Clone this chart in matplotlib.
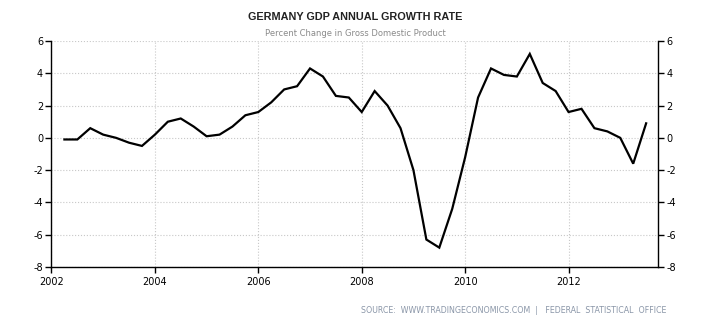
"""
Germany GDP annual growth rate, quarterly
"""
import numpy as np
import matplotlib
matplotlib.use("Agg")
import matplotlib.pyplot as plt

plt.rcParams['axes.unicode_minus'] = False

# quarterly values, Q1 2002 .. Q2 2013
start_year = 2002.25
growth = [-0.1, -0.1, 0.6, 0.2, 0.0, -0.3, -0.5, 0.2,
          1.0, 1.2, 0.7, 0.1, 0.2, 0.7, 1.4, 1.6,
          2.2, 3.0, 3.2, 4.3, 3.8, 2.6, 2.5, 1.6,
          2.9, 2.0, 0.6, -2.0, -6.3, -6.8, -4.4, -1.2,
          2.5, 4.3, 3.9, 3.8, 5.2, 3.4, 2.9, 1.6,
          1.8, 0.6, 0.4, 0.0, -1.6, 0.9]
years = start_year + 0.25 * np.arange(len(growth))
year_ticks = [2002, 2004, 2006, 2008, 2010, 2012]
y_ticks = [-8, -6, -4, -2, 0, 2, 4, 6]

fig = plt.figure(figsize=(7.1, 3.25), dpi=100)
ax = fig.add_axes([0.0725, 0.1785, 0.8543, 0.6953])
ax.plot(years, growth, color='black', linewidth=1.6, solid_joinstyle='miter')

ax.set_xlim(2002, 2013.73)
ax.set_ylim(-8, 6)
ax.set_xticks(year_ticks)
ax.set_yticks(y_ticks)
ax.grid(True, color='#c8c8c8', linestyle=':', linewidth=0.8)
ax.spines['top'].set_visible(False)
for s in ['left', 'right', 'bottom']:
    ax.spines[s].set_linewidth(1.0)
ax.tick_params(axis='both', direction='out', length=4, width=1, labelsize=7, colors='black')
ax.tick_params(axis='y', right=True, labelright=True, pad=2)

fig.text(0.5, 0.948, "GERMANY GDP ANNUAL GROWTH RATE", ha='center', va='center',
         fontsize=7.8, fontweight='bold', color='#222222',
         family=['Liberation Sans', 'DejaVu Sans'])
fig.text(0.5, 0.896, "Percent Change in Gross Domestic Product", ha='center', va='center',
         fontsize=6, color='#8a8a8a')
fig.text(0.938, 0.046, "SOURCE:  WWW.TRADINGECONOMICS.COM  |   FEDERAL  STATISTICAL  OFFICE",
         ha='right', va='center', fontsize=5.7, color='#8a96a8')

plt.savefig("out.png", dpi=100)
